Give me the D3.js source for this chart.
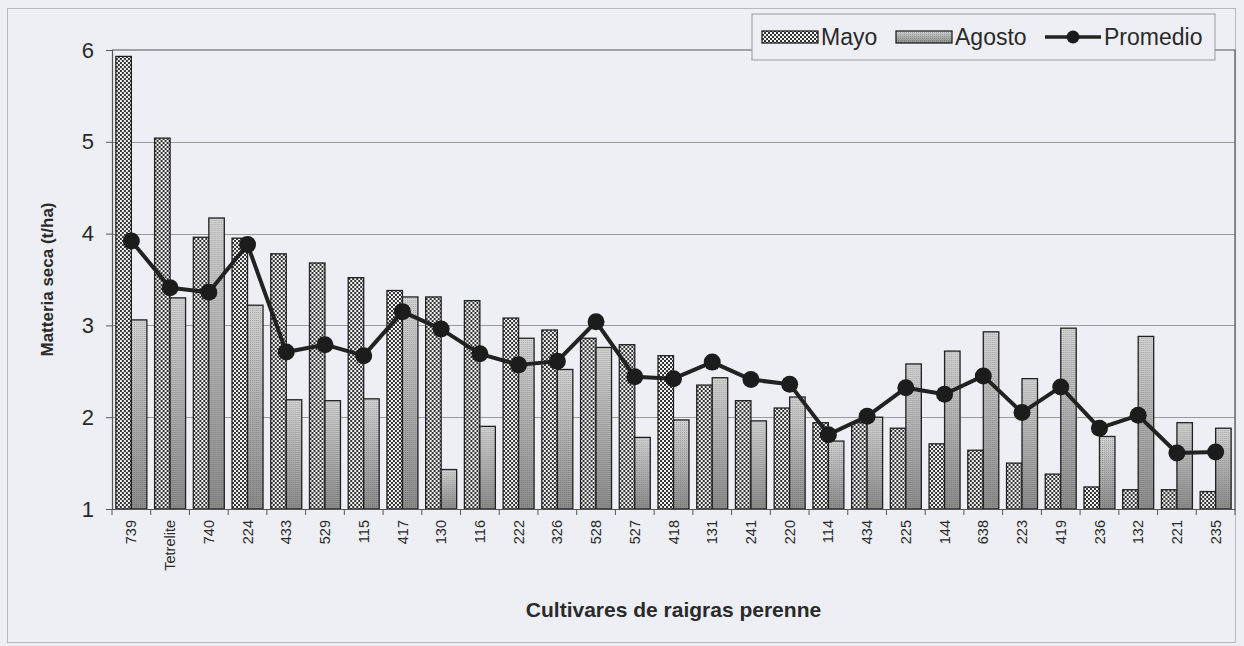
<!DOCTYPE html>
<html>
<head>
<meta charset="utf-8">
<script src="https://cdn.jsdelivr.net/npm/d3@7"></script>
<style>
  body { margin: 0; background: #edeff4; }
  svg { display: block; font-family: "Liberation Sans", Arial, sans-serif; }
</style>
</head>
<body>
<div id="chart"></div>
<script>
const W = 1244, H = 646;

const cultivars = ["739", "Tetrelite", "740", "224", "433", "529", "115", "417", "130", "116",
    "222", "326", "528", "527", "418", "131", "241", "220", "114", "434",
    "225", "144", "638", "223", "419", "236", "132", "221", "235"];
const mayo = [5.93, 5.04, 3.96, 3.95, 3.78, 3.68, 3.52, 3.38, 3.31, 3.27,
    3.08, 2.95, 2.86, 2.79, 2.67, 2.35, 2.18, 2.10, 1.94, 1.94,
    1.88, 1.71, 1.64, 1.50, 1.38, 1.24, 1.21, 1.21, 1.19];
const agosto = [3.06, 3.30, 4.17, 3.22, 2.19, 2.18, 2.20, 3.31, 1.43, 1.90,
    2.86, 2.52, 2.76, 1.78, 1.97, 2.43, 1.96, 2.22, 1.74, 2.00,
    2.58, 2.72, 2.93, 2.42, 2.97, 1.79, 2.88, 1.94, 1.88];
const promedio = [3.92, 3.41, 3.36, 3.88, 2.71, 2.79, 2.67, 3.15, 2.96, 2.69,
    2.57, 2.61, 3.04, 2.44, 2.42, 2.60, 2.41, 2.36, 1.81, 2.01,
    2.32, 2.25, 2.45, 2.05, 2.33, 1.88, 2.02, 1.61, 1.62];
const yTicks = [1, 2, 3, 4, 5, 6];
const seriesNames = ["Mayo", "Agosto", "Promedio"];

const margin = {left: 112, right: 9, top: 50, bottom: 137};
const plotW = W - margin.left - margin.right;
const plotH = H - margin.top - margin.bottom;

const svg = d3.select("#chart").append("svg")
    .attr("width", W).attr("height", H);

// patterns
const defs = svg.append("defs");
const checker = defs.append("pattern")
    .attr("id", "checker").attr("patternUnits", "userSpaceOnUse")
    .attr("width", 4).attr("height", 4);
checker.append("rect").attr("width", 4).attr("height", 4).attr("fill", "#f4f4f4");
checker.append("rect").attr("width", 2).attr("height", 2).attr("fill", "#333");
checker.append("rect").attr("x", 2).attr("y", 2).attr("width", 2).attr("height", 2).attr("fill", "#333");

const grad = defs.append("linearGradient")
    .attr("id", "grayGrad").attr("x1", 0).attr("y1", 0).attr("x2", 0).attr("y2", 1);
grad.append("stop").attr("offset", "0%").attr("stop-color", "#d2d2d2");
grad.append("stop").attr("offset", "100%").attr("stop-color", "#8c8c8c");

const dots = defs.append("pattern")
    .attr("id", "dots").attr("patternUnits", "userSpaceOnUse")
    .attr("width", 2).attr("height", 2);
dots.append("rect").attr("width", 1).attr("height", 1).attr("fill", "rgba(0,0,0,0.18)");

// outer frame
svg.append("rect")
    .attr("x", 7.5).attr("y", 8.5).attr("width", W - 16).attr("height", H - 12)
    .attr("fill", "#edeff4").attr("stroke", "#b8bac0").attr("stroke-width", 1);

const g = svg.append("g").attr("transform", `translate(${margin.left},${margin.top})`);

const x = d3.scaleBand().domain(cultivars).range([0, plotW]).paddingInner(0.2).paddingOuter(0.1);
const xSub = d3.scaleBand().domain(["Mayo", "Agosto"]).range([0, x.bandwidth()]);
const y = d3.scaleLinear().domain([1, 6]).range([plotH, 0]);

// gridlines
g.append("g").selectAll("line").data(yTicks.filter(d => d > 1 && d < 6)).join("line")
    .attr("x1", 0).attr("x2", plotW)
    .attr("y1", d => Math.round(y(d)) + 0.5).attr("y2", d => Math.round(y(d)) + 0.5)
    .attr("stroke", "#9a9a9a").attr("stroke-width", 1);

// plot frame (top and right)
g.append("path")
    .attr("d", `M0,${y(6)}H${plotW}V${plotH}`)
    .attr("fill", "none").attr("stroke", "#555").attr("stroke-width", 1.2);

// bars
const groups = g.append("g").selectAll("g").data(cultivars).join("g")
    .attr("transform", d => `translate(${x(d)},0)`);

groups.append("rect")
    .attr("x", xSub("Mayo")).attr("width", xSub.bandwidth())
    .attr("y", (d, i) => y(mayo[i])).attr("height", (d, i) => plotH - y(mayo[i]))
    .attr("fill", "url(#checker)").attr("stroke", "#222").attr("stroke-width", 1.3);

groups.append("rect")
    .attr("x", xSub("Agosto")).attr("width", xSub.bandwidth())
    .attr("y", (d, i) => y(agosto[i])).attr("height", (d, i) => plotH - y(agosto[i]))
    .attr("fill", "url(#grayGrad)").attr("stroke", "#222").attr("stroke-width", 1.3);
groups.append("rect")
    .attr("x", xSub("Agosto")).attr("width", xSub.bandwidth())
    .attr("y", (d, i) => y(agosto[i])).attr("height", (d, i) => plotH - y(agosto[i]))
    .attr("fill", "url(#dots)");

// promedio line
const line = d3.line()
    .x((d, i) => x(cultivars[i]) + x.bandwidth() / 2)
    .y(d => y(d));
g.append("path").datum(promedio)
    .attr("d", line).attr("fill", "none")
    .attr("stroke", "#222").attr("stroke-width", 4).attr("stroke-linejoin", "round");
g.append("g").selectAll("circle").data(promedio).join("circle")
    .attr("cx", (d, i) => x(cultivars[i]) + x.bandwidth() / 2)
    .attr("cy", d => y(d)).attr("r", 8.5)
    .attr("fill", "#1c1c1c");

// axes
const yAxis = d3.axisLeft(y).tickValues(yTicks).tickFormat(d3.format("d")).tickSize(6).tickPadding(12);
const gy = g.append("g").call(yAxis);
gy.select(".domain").attr("stroke", "#555").attr("stroke-width", 1.2);
gy.selectAll(".tick line").attr("stroke", "#555");
gy.selectAll("text").attr("font-size", 22).attr("fill", "#2a2a2a");

const xAxis = d3.axisBottom(x).tickSize(0).tickPadding(0);
const gx = g.append("g").attr("transform", `translate(0,${plotH})`).call(xAxis);
gx.select(".domain").attr("stroke", "#555").attr("stroke-width", 1.2);
gx.selectAll("text")
    .attr("font-size", 14.5).attr("fill", "#2a2a2a")
    .attr("text-anchor", "end")
    .attr("dy", "0.35em")
    .attr("transform", "translate(0,11) rotate(-90)")
    .attr("x", 0).attr("y", 0);

// separator ticks between categories
const step = x.step();
g.append("g").selectAll("line").data(d3.range(cultivars.length + 1)).join("line")
    .attr("x1", d => d * step).attr("x2", d => d * step)
    .attr("y1", plotH).attr("y2", plotH + 6)
    .attr("stroke", "#555");

// axis titles
svg.append("text")
    .attr("transform", `translate(53,${margin.top + plotH / 2}) rotate(-90)`)
    .attr("text-anchor", "middle")
    .attr("font-size", 17).attr("font-weight", "bold").attr("fill", "#2a2a2a")
    .text("Matteria seca (t/ha)");

svg.append("text")
    .attr("x", margin.left + plotW / 2).attr("y", 617)
    .attr("text-anchor", "middle")
    .attr("font-size", 21).attr("font-weight", "bold").attr("fill", "#2a2a2a")
    .text("Cultivares de raigras perenne");

// legend
const legend = svg.append("g").attr("transform", "translate(752,14)");
legend.append("rect")
    .attr("width", 463).attr("height", 46)
    .attr("fill", "#edeff4").attr("stroke", "#999");

const legItems = [
    {name: seriesNames[0], x: 10, type: "mayo"},
    {name: seriesNames[1], x: 144, type: "agosto"},
    {name: seriesNames[2], x: 293, type: "line"}
];
legItems.forEach(it => {
    const lg = legend.append("g").attr("transform", `translate(${it.x},0)`);
    if (it.type === "line") {
        lg.append("line").attr("x1", 0).attr("x2", 56).attr("y1", 23).attr("y2", 23)
            .attr("stroke", "#222").attr("stroke-width", 3.5);
        lg.append("circle").attr("cx", 28).attr("cy", 23).attr("r", 6.5).attr("fill", "#1c1c1c");
        lg.append("text").attr("x", 59).attr("y", 31).attr("font-size", 23).attr("fill", "#2a2a2a").text(it.name);
    } else {
        lg.append("rect").attr("x", 0).attr("y", 17).attr("width", 56).attr("height", 12)
            .attr("fill", it.type === "mayo" ? "url(#checker)" : "url(#grayGrad)")
            .attr("stroke", "#222").attr("stroke-width", 1.3);
        if (it.type === "agosto") {
            lg.append("rect").attr("x", 0).attr("y", 17).attr("width", 56).attr("height", 12)
                .attr("fill", "url(#dots)");
        }
        lg.append("text").attr("x", 59).attr("y", 31).attr("font-size", 23).attr("fill", "#2a2a2a").text(it.name);
    }
});
</script>
</body>
</html>
